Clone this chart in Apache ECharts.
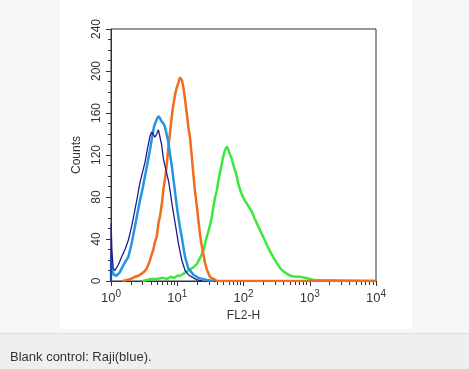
<!DOCTYPE html>
<html>
<head>
<meta charset="utf-8">
<script src="https://cdn.jsdelivr.net/npm/echarts@6/dist/echarts.min.js"></script>
<style>
html,body{margin:0;padding:0;background:#f5f6f6;}
#c{width:469px;height:369px;}
</style>
</head>
<body>
<div id="c"></div>
<script>
// ---- data (FL2-H value, counts) ----
var navyFL2   = [1.0,1.005,1.03,1.08,1.15,1.3,1.45,1.65,1.83,2.05,2.3,2.5,2.74,3.0,3.26,3.55,3.88,4.1,4.36,4.6,4.9,5.2,5.5,5.8,6.2,6.9,7.4,7.8,8.3,8.8,9.3,10.4,11.7,13.1,14.7,17.5,20,24];
var navyCounts= [0,55,30,12,10,16,23,31,39,52,68,80,94,104,113,126,138,142,141,137,140,144,143,130,116,103,95,86,74,64,55,36,20,10,6,3,1,0];

var blueFL2   = [1.0,1.005,1.03,1.1,1.2,1.35,1.45,1.6,1.83,2.05,2.3,2.5,2.74,3.0,3.26,3.55,3.88,4.2,4.5,4.9,5.2,5.5,5.8,6.2,6.5,6.9,7.35,7.8,8.3,8.8,9.3,9.8,10.4,11.0,11.7,12.4,13.1,14.7,17.5,20.8,24,28,35];
var blueCounts= [0,23,12,6,5,8,12,17,23,36,52,64,77,88,100,112,125,138,148,154,157,155,152,150,147,140,132,120,109,96,84,72,61,51,42,32,23,12,6,3,2,1,0];

var orangeFL2   = [1.5,1.6,2.0,2.3,2.6,2.9,3.2,3.46,3.8,4.1,4.36,4.6,4.9,5.2,5.5,5.9,6.2,6.5,6.9,7.35,7.8,8.3,8.7,9.3,9.8,10.4,11.0,11.4,11.8,12.4,13.1,13.9,14.7,15.6,16.5,17.5,18.5,19.7,21,22.1,23.5,24.7,26.3,28,31,35,40,10000];
var orangeCounts= [0,1,2,4,5,7,9,12,18,25,30,37,42,55,62,75,88,96,109,128,142,158,167,178,184,189,194,195,191,184,173,160,147,136,120,102,86,72,56,44,33,26,17,11,4,2,0,0];

var greenFL2   = [3,4,5,6,7,8,9,10,11,12.5,13.9,15.5,17.5,19.7,22.1,24.8,27.9,31,33.2,35,37.3,39.5,41.9,44.5,47.1,50,52.8,56,59,62.9,66,70.6,76,80,84,92,100,106,112,122,134,146,159,170,179,195,212,230,253,285,319,360,402,450,508,600,718,850,1018,1150,1211,10000];
var greenCounts= [0,2,2,3,2,4,3,5,5,7,9,11,13,16,22,29,42,52,61,70,80,86,96,104,112,120,125,128,125,120,117,110,104,98,92,84,79,76,74,70,66,60,55,51,48,43,38,33,28,22,17,12,9,7,5,4,4,3,2,1,0,0];

var yTicks = [0,40,80,120,160,200,240];
var xDecades = [1,10,100,1000,10000];
var minorTickLog = [];
for (var d = 0; d < 4; d++) { for (var k = 2; k <= 9; k++) { minorTickLog.push(d + Math.log10(k)); } }

function pairs(xs, ys){ return xs.map(function(x,i){ return [x, ys[i]]; }); }

var FONT = '"Liberation Sans", Arial, sans-serif';
var chart = echarts.init(document.getElementById('c'), null, {renderer:'canvas'});
var option = {
  animation: false,
  backgroundColor: 'transparent',
  textStyle: {fontFamily: FONT},
  graphic: [
    {type:'rect', z:-10, shape:{x:60,y:0,width:352,height:329}, style:{fill:'#ffffff'}},
    {type:'rect', z:-10, shape:{x:0,y:334,width:469,height:35}, style:{fill:'#eeefef'}},
    {type:'rect', z:-10, shape:{x:0,y:333,width:469,height:1}, style:{fill:'#dcdddd'}}
  ],
  title: {
    text: 'Blank control: Raji(blue).',
    left: 5, top: 346,
    textStyle: {fontFamily: FONT, fontSize: 13, fontWeight: 'normal', color: '#333'}
  },
  grid: {left:111, top:29, width:265, height:252, show:true, borderColor:'#333', borderWidth:1, backgroundColor:'transparent'},
  xAxis: [{
    type:'log', logBase:10, min:1, max:10000,
    name:'FL2-H', nameLocation:'middle', nameGap:24,
    nameTextStyle:{fontFamily:FONT, fontSize:12, color:'#333'},
    axisLine:{show:true, lineStyle:{color:'#333', width:1}},
    axisTick:{show:true, length:5, lineStyle:{color:'#333'}},
    splitLine:{show:false},
    axisLabel:{
      margin:8, color:'#333',
      formatter:function(v){ return '{b|10}{s|' + Math.round(Math.log10(v)) + '}'; },
      rich:{
        b:{fontFamily:FONT, fontSize:13, color:'#333', lineHeight:16, verticalAlign:'bottom'},
        s:{fontFamily:FONT, fontSize:10, color:'#333', lineHeight:16, verticalAlign:'top'}
      }
    }
  },{
    type:'value', min:0, max:4, gridIndex:0, position:'bottom',
    axisLine:{show:false}, axisLabel:{show:false}, splitLine:{show:false},
    axisTick:{show:true, length:4, customValues:minorTickLog, lineStyle:{color:'#333'}}
  }],
  yAxis: {
    type:'value', min:0, max:240, interval:40,
    name:'Counts', nameLocation:'middle', nameGap:26, nameRotate:90,
    nameTextStyle:{fontFamily:FONT, fontSize:12, color:'#333'},
    axisLine:{show:true, lineStyle:{color:'#333', width:1}},
    axisTick:{show:true, length:5, lineStyle:{color:'#333'}},
    minorTick:{show:true, splitNumber:4, length:3, lineStyle:{color:'#333'}},
    splitLine:{show:false},
    axisLabel:{rotate:90, margin:8, fontFamily:FONT, fontSize:12, color:'#333',
      customValues: yTicks}
  },
  series: [
    {type:'line', name:'green', data:pairs(greenFL2, greenCounts), showSymbol:false, symbol:'none', lineStyle:{color:'#3de83d', width:2.5}, z:2},
    {type:'line', name:'orange', data:pairs(orangeFL2, orangeCounts), showSymbol:false, symbol:'none', lineStyle:{color:'#f06d1e', width:2.5}, z:3},
    {type:'line', name:'blue', data:pairs(blueFL2, blueCounts), showSymbol:false, symbol:'none', lineStyle:{color:'#2595e2', width:2.5}, z:4},
    {type:'line', name:'navy', data:pairs(navyFL2, navyCounts), showSymbol:false, symbol:'none', lineStyle:{color:'#1c1c8e', width:1.3}, z:5}
  ]
};
chart.setOption(option);
</script>
</body>
</html>
